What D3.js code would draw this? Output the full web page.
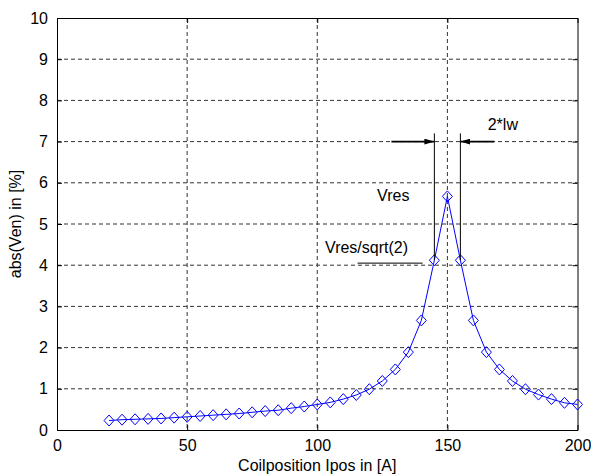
<!DOCTYPE html>
<html>
<head>
<meta charset="utf-8">
<script src="https://d3js.org/d3.v7.min.js"></script>
<style>
    body { margin: 0; background: #fff; }
    text { font-family: "Liberation Sans", Arial, Helvetica, sans-serif; }
</style>
</head>
<body>
<svg id="chart" width="591" height="476"></svg>
<script>
    // coil position [A]
    var ipos = [20, 25, 30, 35, 40, 45, 50, 55, 60, 65, 70, 75, 80, 85, 90, 95, 100,
        105, 110, 115, 120, 125, 130, 135, 140, 145, 150, 155, 160, 165, 170, 175,
        180, 185, 190, 195, 200];
    // abs(Ven) [%]
    var ven = [0.23, 0.25, 0.26, 0.27, 0.28, 0.30, 0.32, 0.34, 0.36, 0.38, 0.40, 0.43,
        0.46, 0.48, 0.53, 0.57, 0.62, 0.67, 0.75, 0.85, 0.99, 1.19, 1.47, 1.89, 2.66,
        4.12, 5.67, 4.12, 2.66, 1.89, 1.47, 1.19, 0.99, 0.86, 0.75, 0.66, 0.62];
    var xTicks = [0, 50, 100, 150, 200];
    var yTicks = [0, 1, 2, 3, 4, 5, 6, 7, 8, 9, 10];

    // annotation values (data units)
    var vres = 5.67, vresHalf = 4.12;
    var bandLo = 145, bandHi = 155;

    var margin = {top: 18, right: 13.5, bottom: 46, left: 57};
    var width = 591 - margin.left - margin.right,
        height = 476 - margin.top - margin.bottom;

    var svg = d3.select("#chart");
    var g = svg.append("g").attr("transform", "translate(" + margin.left + "," + margin.top + ")");

    var x = d3.scaleLinear().domain([0, 200]).range([0, width]);
    var y = d3.scaleLinear().domain([0, 10]).range([height, 0]);

    // grid
    g.append("g").selectAll("line").data(xTicks.slice(1, -1)).enter().append("line")
        .attr("x1", d => x(d)).attr("x2", d => x(d)).attr("y1", 0).attr("y2", height)
        .attr("stroke", "#333").attr("stroke-dasharray", "4,3");
    g.append("g").selectAll("line").data(yTicks.slice(1, -1)).enter().append("line")
        .attr("y1", d => y(d)).attr("y2", d => y(d)).attr("x1", 0).attr("x2", width)
        .attr("stroke", "#333").attr("stroke-dasharray", "4,3");

    // axes (MATLAB style, inward ticks, box)
    var fs = "16px";
    g.append("g").attr("transform", "translate(0," + height + ")")
        .call(d3.axisBottom(x).tickValues(xTicks).tickSize(-5).tickPadding(10).tickSizeOuter(0));
    g.append("g")
        .call(d3.axisLeft(y).tickValues(yTicks).tickSize(-5).tickPadding(9).tickSizeOuter(0));
    g.append("g").call(d3.axisTop(x).tickValues(xTicks).tickSize(-5).tickFormat("").tickSizeOuter(0));
    g.append("g").attr("transform", "translate(" + width + ",0)")
        .call(d3.axisRight(y).tickValues(yTicks).tickSize(-5).tickFormat("").tickSizeOuter(0));
    g.selectAll(".domain, .tick line").attr("stroke", "#000");
    g.selectAll(".tick text").attr("fill", "#000").style("font-size", fs)
        .style("font-family", "'Liberation Sans', Arial, sans-serif");

    // axis titles
    g.append("text").attr("x", width / 2).attr("y", height + 41)
        .attr("text-anchor", "middle").style("font-size", fs).text("Coilposition Ipos in [A]");
    g.append("text").attr("transform", "translate(" + (-36) + "," + (height / 2) + ") rotate(-90)")
        .attr("text-anchor", "middle").style("font-size", fs).text("abs(Ven) in [%]");

    // curve + diamond markers
    var pts = ipos.map((d, i) => [d, ven[i]]);
    g.append("path").datum(pts)
        .attr("d", d3.line().x(d => x(d[0])).y(d => y(d[1])))
        .attr("fill", "none").attr("stroke", "#0000ff").attr("stroke-width", 1);
    g.append("g").selectAll("path").data(pts).enter().append("path")
        .attr("transform", d => "translate(" + x(d[0]) + "," + y(d[1]) + ")")
        .attr("d", "M0,-5.5L5,0L0,5.5L-5,0Z")
        .attr("fill", "none").attr("stroke", "#0000ff").attr("stroke-width", 1);

    // annotations
    var lineTop = 7.2, arrowY = 7.0;
    [bandLo, bandHi].forEach(function(b) {
        g.append("line").attr("x1", x(b)).attr("x2", x(b))
            .attr("y1", y(lineTop)).attr("y2", y(vresHalf))
            .attr("stroke", "#000").attr("stroke-width", 1);
    });
    svg.append("defs").append("marker").attr("id", "ah")
        .attr("viewBox", "0 0 10 6").attr("refX", 10).attr("refY", 3)
        .attr("markerWidth", 10).attr("markerHeight", 6).attr("markerUnits", "userSpaceOnUse")
        .attr("orient", "auto")
        .append("path").attr("d", "M0,0L10,3L0,6Z").attr("fill", "#000");
    g.append("line").attr("x1", x(128.5)).attr("x2", x(bandLo))
        .attr("y1", y(arrowY)).attr("y2", y(arrowY))
        .attr("stroke", "#000").attr("stroke-width", 1.6).attr("marker-end", "url(#ah)");
    g.append("line").attr("x1", x(168)).attr("x2", x(bandHi))
        .attr("y1", y(arrowY)).attr("y2", y(arrowY))
        .attr("stroke", "#000").attr("stroke-width", 1.6).attr("marker-end", "url(#ah)");

    g.append("text").attr("x", x(165.5)).attr("y", y(7.28))
        .style("font-size", fs).text("2*lw");
    g.append("text").attr("x", x(123)).attr("y", y(5.55))
        .style("font-size", fs).text("Vres");
    g.append("text").attr("x", x(103)).attr("y", y(4.3))
        .style("font-size", fs).text("Vres/sqrt(2)");
    g.append("line").attr("x1", x(115.5)).attr("x2", x(140.5))
        .attr("y1", y(4.05)).attr("y2", y(4.05))
        .attr("stroke", "#000").attr("stroke-width", 1);
</script>
</body>
</html>
